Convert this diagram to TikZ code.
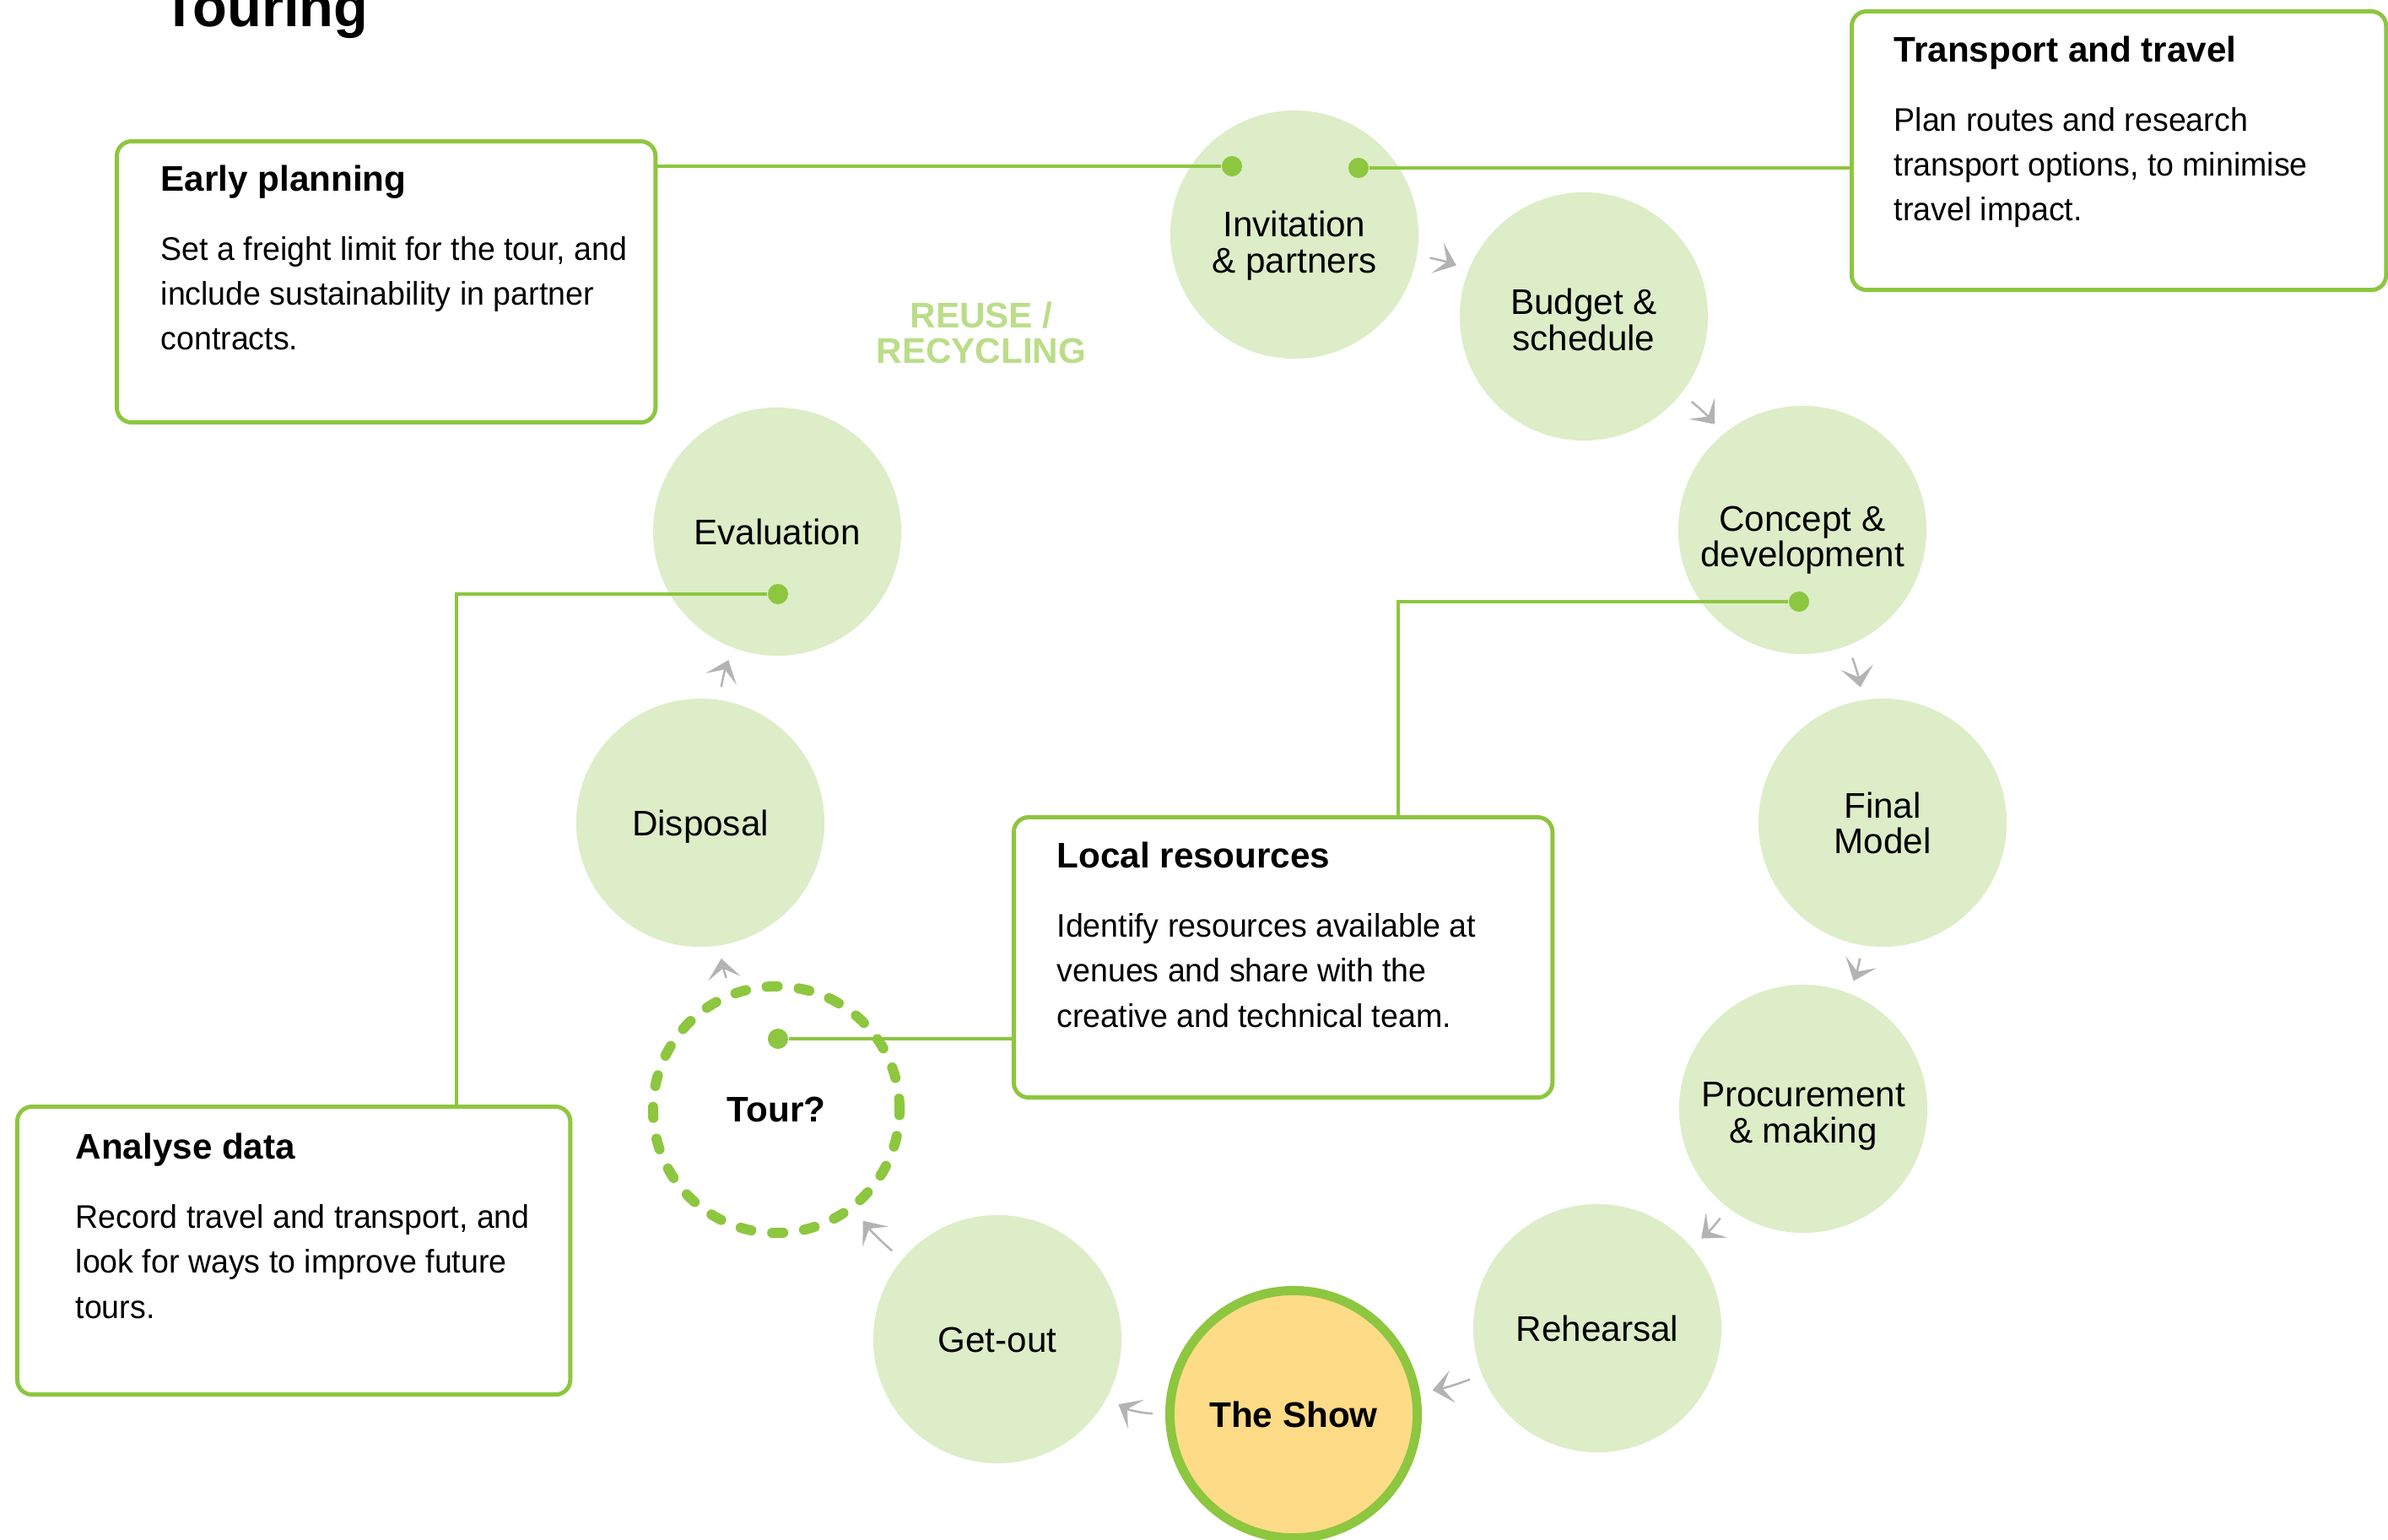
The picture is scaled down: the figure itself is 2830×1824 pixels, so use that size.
\documentclass[tikz,border=0pt]{standalone}
\usepackage{fontspec}
\setmainfont{Liberation Sans}
\newfontfamily\bodyfont{Liberation Sans}[FakeStretch=0.97]
\usetikzlibrary{arrows.meta}

\definecolor{leaf}{RGB}{141,198,63}
\definecolor{mint}{RGB}{221,237,200}
\definecolor{sun}{RGB}{253,219,135}
\definecolor{ash}{RGB}{179,179,179}
\definecolor{sprout}{RGB}{187,221,136}

\newcommand\cardtitle[1]{{\rmfamily\bfseries\fontsize{12}{15.1}\selectfont #1}\\[8.2pt]}

\tikzset{
  stage/.style={circle,fill=mint,minimum size=2.94cm,inner sep=0pt,align=center,
    text depth=0pt,font=\fontsize{12}{12.2}\selectfont},
  mainstage/.style={stage,fill=sun,draw=leaf,line width=3.1pt,minimum size=2.93cm,
    font=\fontsize{12}{12.2}\selectfont\bfseries},
  tourstage/.style={stage,fill=none,draw=leaf,line width=3.4pt,line cap=round,
    dash pattern=on 3.7pt off 7.1pt,minimum size=2.92cm,
    font=\fontsize{12}{12.2}\selectfont\bfseries},
  card/.style={draw=leaf,line width=1.4pt,rounded corners=5pt,anchor=north west,inner sep=0pt},
  cardtext/.style={anchor=base west,align=left,inner sep=0pt,
    font=\bodyfont\fontsize{11}{15.1}\selectfont},
  joint/.style={circle,fill=leaf,minimum size=0.24cm,inner sep=0pt},
  link/.style={draw=leaf,line width=1.25pt},
  flow/.style={draw=ash,line width=0.7pt,-{Stealth[length=6.8pt,width=11pt,inset=3.4pt]},
    shorten <=0.15cm,shorten >=0.15cm}
}

\begin{document}
\begin{tikzpicture}[x=0.01cm,y=0.01cm]
  \path[use as bounding box,fill=white] (-1532,-849) rectangle (1298,975);

  \foreach \x/\y/\name/\th/\txt in {2/697/inv/26/{Invitation\\\& partners},345/600/bud/23/{Budget \&\\schedule},
      604/347/con/25/{Concept \&\\development},699/0/fin/21/{Final\\Model},605/-339/pro/23/{Procurement\\\& making},
      361/-599/reh/8.8/Rehearsal,-350/-612/out/8.8/Get-out,-702/0/dis/8.8/Disposal,-611/345/eva/8.8/Evaluation} {
    \node[stage,text height=\th pt] (\name) at (\x,\y) {\txt};
  }
  \node[mainstage] (show) at (1,-701) {The Show};
  \node[tourstage] (tour) at (-612,-340) {Tour?};

  \foreach \a/\b/\bend in {inv/bud/6,bud/con/6,con/fin/6,fin/pro/6,pro/reh/6,reh/show/6,show/out/14,out/tour/6,tour/dis/6,dis/eva/6}
    \draw[flow] (\a) to[bend left=\bend] (\b);

  \node[align=center,text depth=0pt,text=sprout,font=\fontsize{12}{12}\selectfont\bfseries] (reuse)
    at (-369,581) {REUSE /\\RECYCLING};

  \node[anchor=base west,inner sep=0pt,font=\fontsize{19}{19}\selectfont\bfseries] (title)
    at (-1340,943) {Touring};

  \node[card,minimum width=6.38cm,minimum height=3.33cm] (early) at (-1396,810) {};
  \node[cardtext] (earlytext) at (-1342,560) {\cardtitle{Early planning}Set a freight limit for the tour, and\\include sustainability in partner\\contracts.};

  \node[card,minimum width=6.33cm,minimum height=3.30cm] (trans) at (660,964) {};
  \node[cardtext] (transtext) at (712,713) {\cardtitle{Transport and travel}Plan routes and research\\transport options, to minimise\\travel impact.};

  \node[card,minimum width=6.38cm,minimum height=3.32cm] (local) at (-333,9) {};
  \node[cardtext] (localtext) at (-280,-242) {\cardtitle{Local resources}Identify resources available at\\venues and share with the\\creative and technical team.};

  \node[card,minimum width=6.55cm,minimum height=3.41cm] (analyse) at (-1514,-334) {};
  \node[cardtext] (analysetext) at (-1443,-587) {\cardtitle{Analyse data}Record travel and transport, and\\look for ways to improve future\\tours.};

  \node[joint] (invl) at (-72,778) {};
  \node[joint] (invr) at (78,776) {};
  \node[joint] (conp) at (600,262) {};
  \node[joint] (evap) at (-610,271) {};
  \node[joint] (tourp) at (-610,-256) {};
  \coordinate (bendlocal) at (125,262);
  \coordinate (bendanalyse) at (-991,271);

  \draw[link] (invl) -- (invl -| early.east);
  \draw[link] (invr) -- (invr -| trans.west);
  \draw[link] (conp) -- (bendlocal) -- (bendlocal |- local.north);
  \draw[link] (evap) -- (bendanalyse) -- (bendanalyse |- analyse.north);
  \draw[link] (tourp) -- (tourp -| local.west);
\end{tikzpicture}
\end{document}
